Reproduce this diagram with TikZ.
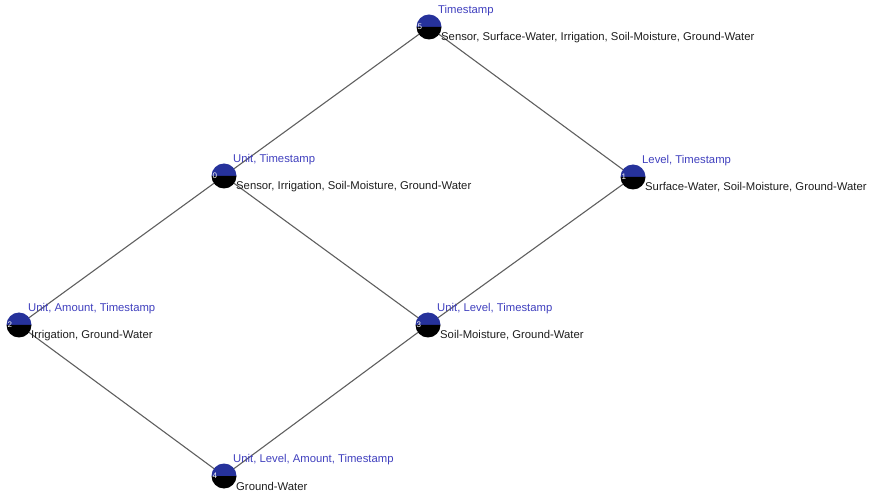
\documentclass[tikz,border=0pt]{standalone}
\usepackage{fontspec}
\setmainfont{Liberation Sans}
\usetikzlibrary{calc}
\definecolor{conceptblue}{RGB}{38,50,155}
\definecolor{attrblue}{RGB}{64,64,190}
\definecolor{objtext}{RGB}{30,30,30}
\definecolor{edgegray}{RGB}{95,95,95}
\tikzset{
  conceptnode/.style={circle,minimum size=25pt,inner sep=0pt},
  edge/.style={draw=edgegray,line width=1.1pt},
  attrlabel/.style={anchor=west,inner sep=0pt,text=attrblue,font=\fontsize{11.3}{13}\selectfont},
  objlabel/.style={anchor=west,inner sep=0pt,text=objtext,font=\fontsize{11.3}{13}\selectfont},
  idlabel/.style={anchor=west,inner sep=0pt,text=white,font=\fontsize{8}{9}\selectfont}
}
% draws a lattice concept: blue upper half, black lower half, with labels
% (the picture's y axis points downwards)
\newcommand{\concept}[5]{%
  \node[conceptnode] (c#1) at (#2,#3) {};
  \fill[conceptblue] (#2,#3) ++(-12.5,0) arc[start angle=180,end angle=360,radius=12.5] -- cycle;
  \fill[black] (#2,#3) ++(-12.5,0) arc[start angle=180,end angle=0,radius=12.5] -- cycle;
  \node[idlabel] (id#1) at ($(#2,#3)+(-11.5,0)$) {#1};
  \node[attrlabel] (a#1) at ($(#2,#3)+(9,-16)$) {#4};
  \node[objlabel] (o#1) at ($(#2,#3)+(12,10.5)$) {#5};
}
\begin{document}
\begin{tikzpicture}[x=1pt,y=-1pt]
\useasboundingbox (0,0) rectangle (876,494);
% node positions
\coordinate (p5) at (429,27);
\coordinate (p0) at (224,176);
\coordinate (p1) at (633,177);
\coordinate (p2) at (19,325);
\coordinate (p3) at (428,325);
\coordinate (p4) at (224,476);
% lattice edges
\draw[edge] (p5) -- (p0);
\draw[edge] (p5) -- (p1);
\draw[edge] (p0) -- (p2);
\draw[edge] (p0) -- (p3);
\draw[edge] (p1) -- (p3);
\draw[edge] (p2) -- (p4);
\draw[edge] (p3) -- (p4);
\concept{5}{429}{27}{Timestamp}{Sensor, Surface-Water, Irrigation, Soil-Moisture, Ground-Water}
\concept{0}{224}{176}{Unit, Timestamp}{Sensor, Irrigation, Soil-Moisture, Ground-Water}
\concept{1}{633}{177}{Level, Timestamp}{Surface-Water, Soil-Moisture, Ground-Water}
\concept{2}{19}{325}{Unit, Amount, Timestamp}{Irrigation, Ground-Water}
\concept{3}{428}{325}{Unit, Level, Timestamp}{Soil-Moisture, Ground-Water}
\concept{4}{224}{476}{Unit, Level, Amount, Timestamp}{Ground-Water}
\end{tikzpicture}
\end{document}
